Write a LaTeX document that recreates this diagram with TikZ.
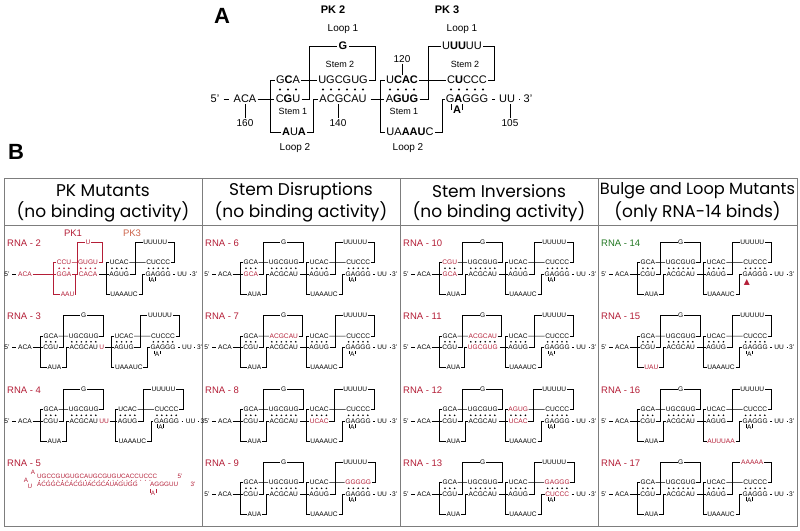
\documentclass[tikz,border=0pt]{standalone}
\usepackage{fontspec}
\setmainfont{Liberation Sans}
\newfontfamily\headfont{Poppins}
\newfontfamily\symfont{DejaVu Sans}
\usetikzlibrary{positioning}
\definecolor{mutred}{RGB}{180,30,55}
\definecolor{pkorange}{RGB}{205,100,75}
\definecolor{bindgreen}{RGB}{35,120,35}
\definecolor{framegray}{RGB}{125,125,125}

\tikzset{
  seq/.style={inner sep=1pt, font=\fontsize{11}{13}\selectfont},
  lbl/.style={inner sep=1pt, font=\fontsize{10}{12}\selectfont},
  stemlbl/.style={inner sep=1pt, font=\fontsize{9}{11}\selectfont},
  rnalab/.style={anchor=west, inner sep=0pt, text=mutred, font=\fontsize{9.5}{11}\selectfont},
  head/.style={font=\headfont\fontsize{17}{20}\selectfont},
  pktwo/.style={},
  tail/.style={shorten <=\pkgap pt, shorten >=\pkgap pt}
}

% wild-type sequence, changed cell by cell
\newcommand{\seqACA}{ACA}
\newcommand{\seqGCA}{GCA}
\newcommand{\seqCGU}{CGU}
\newcommand{\seqLpA}{G}
\newcommand{\seqUGC}{UGCGUG}
\newcommand{\seqACG}{ACGCAU}
\newcommand{\seqAUA}{AUA}
\newcommand{\seqIns}{}
\newcommand{\seqUCA}{UCAC}
\newcommand{\seqAGU}{AGUG}
\newcommand{\seqUAA}{UAAAUC}
\newcommand{\seqUUU}{UUUUU}
\newcommand{\seqCUC}{CUCCC}
\newcommand{\seqGAG}{GAGGG}
\newcommand{\seqBul}{A}
\newcommand{\nStemA}{3}
\newcommand{\nStemB}{6}
\newcommand{\xs}{73}
\newcommand{\xt}{128}
\newcommand{\pkShift}{0}
\newcommand{\mut}[1]{\textcolor{mutred}{#1}}
\newcommand{\pkbulge}[1]{%
  \node[seq] (#1bul) at (242+\pkShift,11) {\seqBul};
  \draw (#1bul.west) -- ++(0,-6);
  \draw (#1bul.east) -- ++(0,-6);}

% the double pseudoknot, #1 name prefix, #2 5' end, #3 scale
\newcommand{\pknot}[3]{%
\pgfmathsetmacro{\pkgap}{3*#3}
\pgfmathsetmacro{\pklw}{0.8*#3}
\pgfmathsetmacro{\pkdot}{1.2+0.75*(1-#3)}
\begin{scope}[shift={#2}, scale=#3, transform shape, line width=\pklw pt]
  % bottom strand
  \node[seq] (#1five) at (0,0) {5'};
  \node[seq] (#1aca) at (30,0) {\seqACA};
  \node[seq] (#1cgu) at (\xs,0) {\seqCGU};
  \node[seq] (#1acg) at (\xt,0) {\seqACG};
  \node[seq, anchor=west] (#1ins) at (#1acg.east) {\seqIns};
  \node[seq] (#1agu) at (187+\pkShift,0) {\seqAGU};
  \node[seq] (#1gag) at (252+\pkShift,0) {\seqGAG};
  \node[seq] (#1uu) at (292+\pkShift,0) {UU};
  \node[seq] (#1three) at (313+\pkShift,0) {3'};
  % top strand and loops
  \node[seq] (#1gca) at (\xs,-19) {\seqGCA};
  \node[seq] (#1ugc) at (\xt,-19) {\seqUGC};
  \node[seq] (#1uca) at (187+\pkShift,-19) {\seqUCA};
  \node[seq] (#1cuc) at (252+\pkShift,-19) {\seqCUC};
  \node[seq] (#1lpa) at (\xt,-53) {\seqLpA};
  \node[seq] (#1uuu) at (247+\pkShift,-53) {\seqUUU};
  \node[seq] (#1aua) at (\xs+6,33) {\seqAUA};
  \node[seq] (#1uaa) at (195+\pkShift,33) {\seqUAA};
  \pkbulge{#1}
  % base pairs
  \foreach \i in {1,...,\nStemA} \fill[pktwo] ({\xs+8*(\i-(\nStemA+1)/2)},-9.5) circle (\pkdot);
  \foreach \i in {1,...,\nStemB} \fill[pktwo] ({\xt+8*(\i-(\nStemB+1)/2)},-9.5) circle (\pkdot);
  \foreach \i in {1,...,4} \fill ({187+\pkShift+8*(\i-2.5)},-9.5) circle (\pkdot);
  \foreach \i in {1,...,5} \fill ({252+\pkShift+8*(\i-3)},-9.5) circle (\pkdot);
  % backbone
  \draw[tail] (#1five) -- (#1aca);
  \draw[pktwo] (#1aca) -- (#1cgu);
  \draw[pktwo] (#1gca.west) -- ++(-4,0) |- (#1aua.west);
  \draw[pktwo] (#1gca) -- (#1ugc);
  \draw[pktwo] (#1cgu.east) -- ++(8,0) |- (#1lpa.west);
  \draw[pktwo] (#1ugc.east) -- ++(6,0) |- (#1lpa.east);
  \draw[pktwo] (#1acg.west) -- ++(-5,0) |- (#1aua.east);
  \draw (#1ins) -- (#1agu);
  \draw (#1uca.west) -- ++(-4,0) |- (#1uaa.west);
  \draw (#1uca) -- (#1cuc);
  \draw (#1agu.east) -- ++(9,0) |- (#1uuu.west);
  \draw (#1cuc.east) -- ++(6,0) |- (#1uuu.east);
  \draw (#1uaa.east) -- ++(7,0) |- (#1gag.west);
  \draw[tail] (#1gag) -- (#1uu);
  \draw[tail] (#1uu) -- (#1three);
\end{scope}}

\begin{document}
\begin{tikzpicture}[x=1pt, y=-1pt]
  \fill[white] (0,0) rectangle (800,530);

  % Part A: wild type
  \node[font=\bfseries\fontsize{22}{24}\selectfont] (labA) at (222,16) {A};
  \node[font=\bfseries\fontsize{11}{13}\selectfont] (pk2) at (333,10) {PK 2};
  \node[font=\bfseries\fontsize{11}{13}\selectfont] (pk3) at (447,10) {PK 3};
  \begin{scope}
    \renewcommand{\seqGCA}{G\textbf{C}A}
    \renewcommand{\seqCGU}{C\textbf{G}U}
    \renewcommand{\seqLpA}{\textbf{G}}
    \renewcommand{\seqAUA}{\textbf{A}U\textbf{A}}
    \renewcommand{\seqUCA}{U\textbf{CAC}}
    \renewcommand{\seqAGU}{A\textbf{GUG}}
    \renewcommand{\seqUAA}{UA\textbf{AAU}C}
    \renewcommand{\seqUUU}{U\textbf{UU}UU}
    \renewcommand{\seqCUC}{C\textbf{U}CCC}
    \renewcommand{\seqGAG}{G\textbf{A}GGG}
    \renewcommand{\seqBul}{\textbf{A}}
    \pknot{a}{(215,99)}{1}
  \end{scope}
  \node[lbl] (lpAa) at (343,29) {Loop 1};
  \node[lbl] (lpAb) at (462,29) {Loop 1};
  \node[stemlbl] (stBa) at (340,64) {Stem 2};
  \node[stemlbl] (stBb) at (465,64) {Stem 2};
  \node[stemlbl] (stAa) at (293,111) {Stem 1};
  \node[stemlbl] (stAb) at (404,111) {Stem 1};
  \node[lbl] (lpBa) at (295,148) {Loop 2};
  \node[lbl] (lpBb) at (408,148) {Loop 2};
  \node[lbl] (n120) at (402,59) {120};
  \node[lbl] (n160) at (245,123) {160};
  \node[lbl] (n140) at (338,123) {140};
  \node[lbl] (n105) at (510,123) {105};
  \draw[line width=0.8pt] (n120) -- (auca);
  \draw[line width=0.8pt] (n160) -- (aaca);
  \draw[line width=0.8pt] (n140.north) -- (n140.north |- aacg.south);
  \draw[line width=0.8pt] (n105.north) -- (n105.north |- auu.south);

  % Part B: table of mutants
  \node[font=\bfseries\fontsize{22}{24}\selectfont] (labB) at (16,152) {B};
  \draw[framegray] (4,178) rectangle (797,526);
  \draw[framegray] (4,225) -- (797,225);
  \foreach \x in {202,400,598} \draw[framegray] (\x,178) -- (\x,526);
  \foreach \x/\t/\s [count=\i] in {103/PK Mutants/(no binding activity),
      301/Stem Disruptions/(no binding activity),
      499/Stem Inversions/(no binding activity),
      697.5/{\fontsize{16.2}{19}\selectfont Bulge and Loop Mutants}/(only RNA-14 binds)} {
    \node[head] (head\i) at (\x,191) {\t};
    \node[head] (sub\i) at (\x,212) {\s};
  }
  \foreach \n/\x/\y in {2/7/243, 3/7/316.5, 4/7/390, 5/7/463,
      6/205/243, 7/205/316.5, 8/205/390, 9/205/463,
      10/403/243, 11/403/316.5, 12/403/390, 13/403/463,
      15/601/316.5, 16/601/390, 17/601/463}
    \node[rnalab] (lab\n) at (\x,\y) {RNA - \n};
  \node[rnalab, text=bindgreen] (lab14) at (601,243) {RNA - 14};

  % PK mutants
  \begin{scope}
    \tikzset{pktwo/.style={mutred}}
    \renewcommand{\seqACA}{\mut{ACA}}
    \renewcommand{\seqGCA}{\mut{CCU}}
    \renewcommand{\seqCGU}{\mut{GGA}}
    \renewcommand{\seqLpA}{\mut{U}}
    \renewcommand{\seqUGC}{\mut{GUGU}}
    \renewcommand{\seqACG}{\mut{CACA}}
    \renewcommand{\seqAUA}{\mut{AAU}}
    \renewcommand{\nStemB}{4}
    \renewcommand{\xs}{95}
    \renewcommand{\xt}{135}
    \pknot{r2}{(7,274)}{0.6}
  \end{scope}
  \node[rnalab, anchor=center] (pkone) at (73,233) {PK1};
  \node[rnalab, anchor=center, text=pkorange] (pkthree) at (132,233) {PK3};
  \begin{scope}
    \renewcommand{\seqIns}{\mut{U}}
    \renewcommand{\pkShift}{8}
    \pknot{r3}{(7,347.5)}{0.6}
  \end{scope}
  \begin{scope}
    \renewcommand{\seqIns}{\mut{UU}}
    \renewcommand{\pkShift}{14}
    \pknot{r4}{(7,421)}{0.6}
  \end{scope}
  % RNA-5: one long hairpin
  \begin{scope}[mutred, font=\fontsize{6.3}{7}\selectfont]
    \node[anchor=west, inner sep=0pt] (r5top) at (37,476) {UGCCGUGUGCAUGCGUGUCACCUCCC};
    \node[inner sep=0pt] (r5five) at (180,476) {5'};
    \node[anchor=west, inner sep=0pt] (r5bot) at (37,484.5) {ACGGCACACGUACGCAUAGUGG};
    \node[anchor=west, inner sep=0pt] (r5bottwo) at (150,484.5) {AGGGUU};
    \node[inner sep=0pt] (r5three) at (193,484.5) {3'};
    \node[inner sep=0pt] (r5la) at (33,472.5) {A};
    \node[inner sep=0pt] (r5lb) at (26,480.5) {A};
    \node[inner sep=0pt] (r5lc) at (30,486.5) {U};
    \node[inner sep=0.5pt] (r5bul) at (153,493) {A};
    \draw[line width=0.45pt] (r5bul.west) -- ++(0,-4);
    \draw[line width=0.45pt] (r5bul.east) -- ++(0,-4);
    \foreach \x in {0,...,24} \fill (39.5+4.6*\x,480.3) circle (0.45);
  \end{scope}

  % Stem disruptions
  \begin{scope}
    \renewcommand{\seqCGU}{\mut{GCA}}
    \pknot{r6}{(207,274)}{0.6}
  \end{scope}
  \begin{scope}
    \renewcommand{\seqUGC}{\mut{ACGCAU}}
    \pknot{r7}{(207,347.5)}{0.6}
  \end{scope}
  \begin{scope}
    \renewcommand{\seqAGU}{\mut{UCAC}}
    \pknot{r8}{(207,421)}{0.6}
  \end{scope}
  \begin{scope}
    \renewcommand{\seqCUC}{\mut{GGGGG}}
    \pknot{r9}{(207,494)}{0.6}
  \end{scope}

  % Stem inversions
  \begin{scope}
    \renewcommand{\seqGCA}{\mut{CGU}}
    \renewcommand{\seqCGU}{\mut{GCA}}
    \pknot{r10}{(406,274)}{0.6}
  \end{scope}
  \begin{scope}
    \renewcommand{\seqUGC}{\mut{ACGCAU}}
    \renewcommand{\seqACG}{\mut{UGCGUG}}
    \pknot{r11}{(406,347.5)}{0.6}
  \end{scope}
  \begin{scope}
    \renewcommand{\seqUCA}{\mut{AGUG}}
    \renewcommand{\seqAGU}{\mut{UCAC}}
    \pknot{r12}{(406,421)}{0.6}
  \end{scope}
  \begin{scope}
    \renewcommand{\seqCUC}{\mut{GAGGG}}
    \renewcommand{\seqGAG}{\mut{CUCCC}}
    \pknot{r13}{(406,494)}{0.6}
  \end{scope}

  % Bulge and loop mutants
  \begin{scope}
    \renewcommand{\pkbulge}[1]{\node[text=mutred, inner sep=0pt,
      font=\symfont\fontsize{13}{13}\selectfont] (#1bul) at (238,14) {▲};}
    \pknot{r14}{(604,274)}{0.6}
  \end{scope}
  \begin{scope}
    \renewcommand{\seqAUA}{\mut{UAU}}
    \pknot{r15}{(604,347.5)}{0.6}
  \end{scope}
  \begin{scope}
    \renewcommand{\seqUAA}{\mut{AUUUAA}}
    \pknot{r16}{(604,421)}{0.6}
  \end{scope}
  \begin{scope}
    \renewcommand{\seqUUU}{\mut{AAAAA}}
    \pknot{r17}{(604,494)}{0.6}
  \end{scope}
\end{tikzpicture}
\end{document}
